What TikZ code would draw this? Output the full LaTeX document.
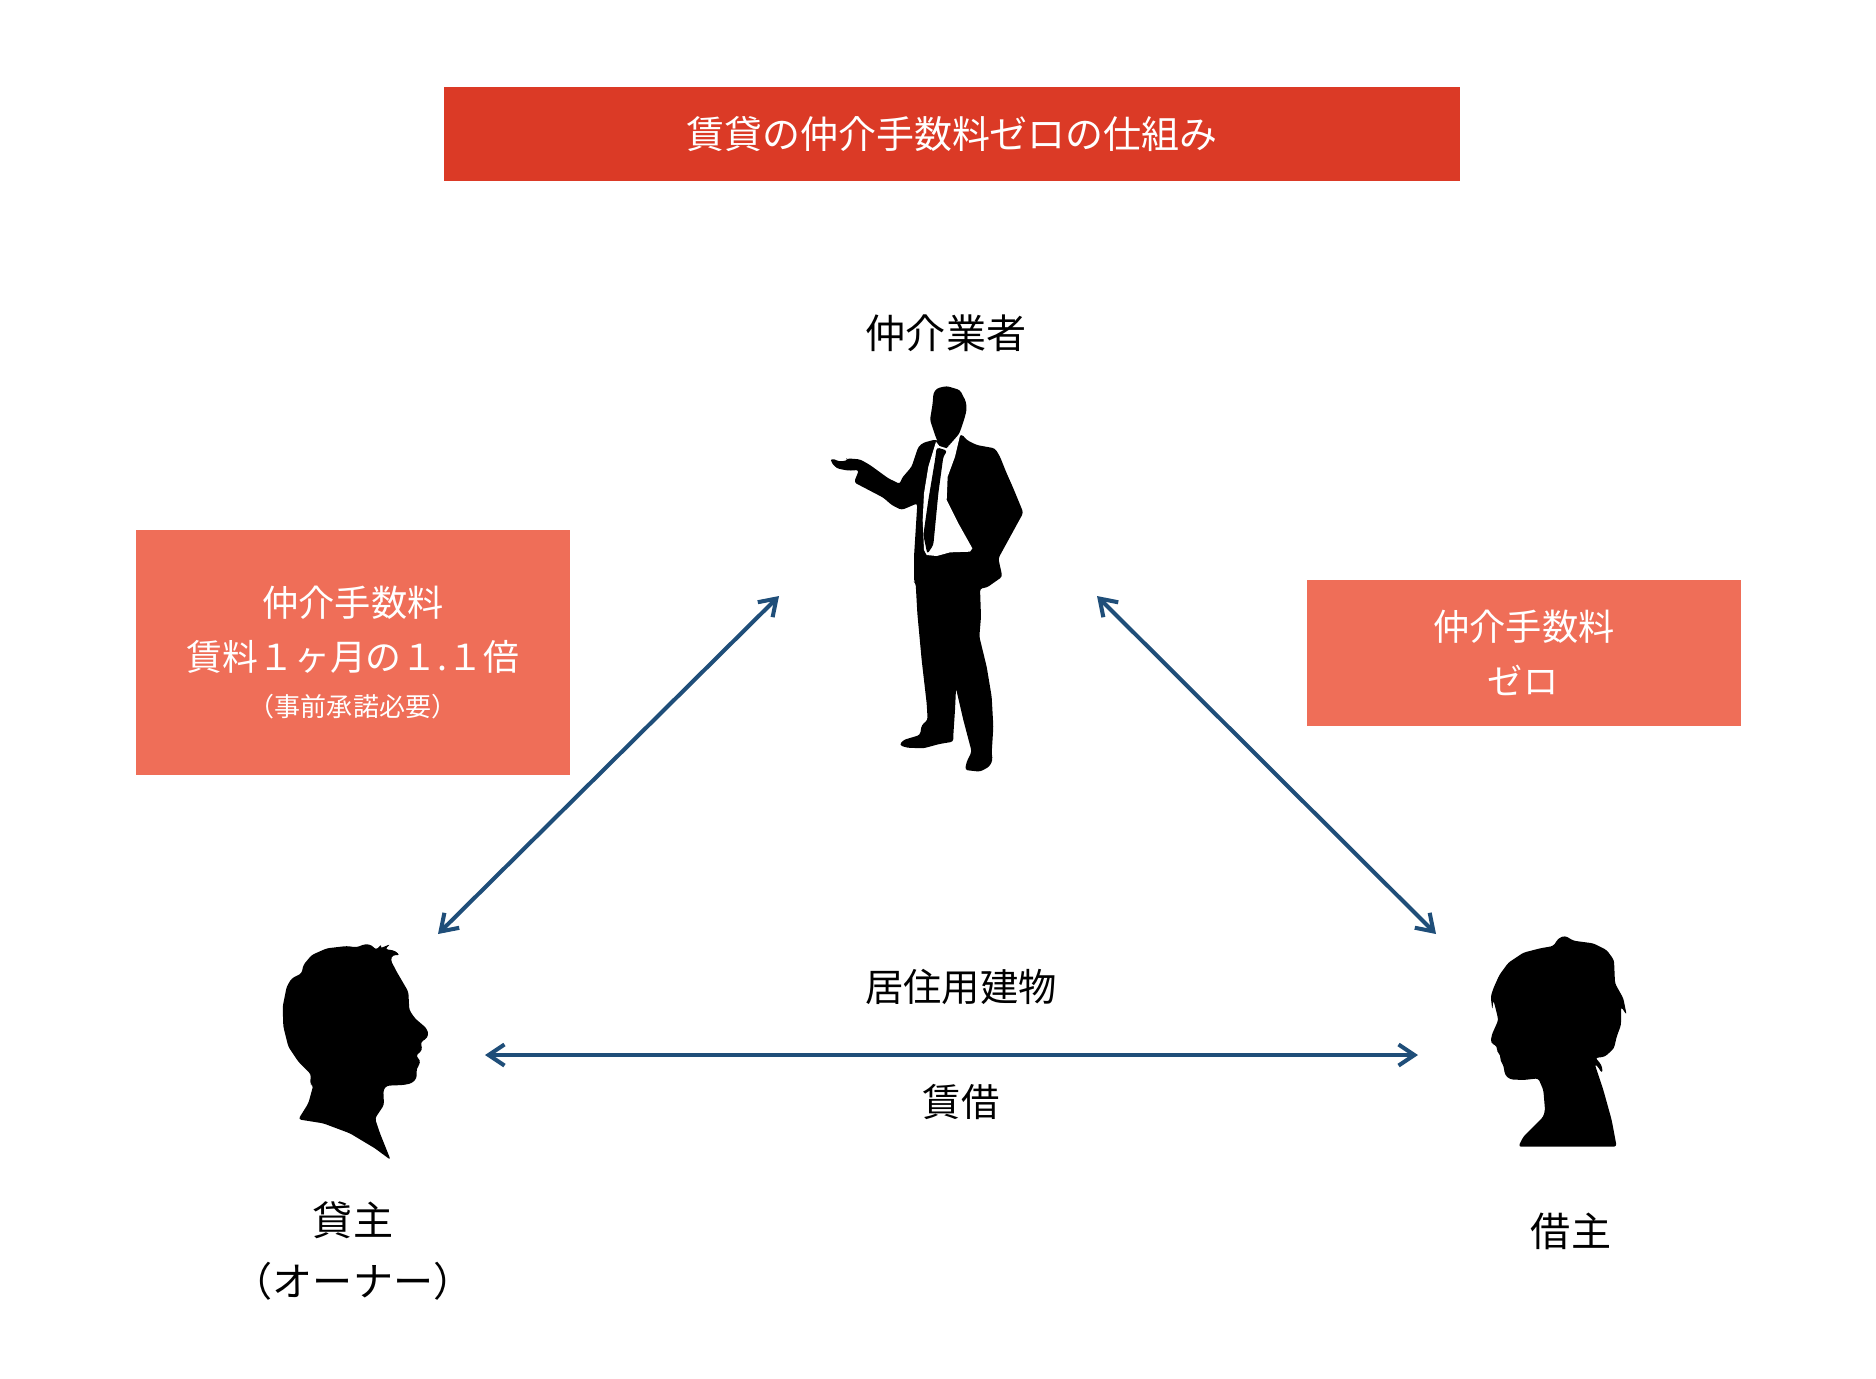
\documentclass[tikz,border=0pt]{standalone}
\usepackage{fontspec}
\setmainfont{Noto Sans CJK JP}
\usetikzlibrary{arrows.meta}
\definecolor{titlered}{HTML}{DB3A26}
\definecolor{feered}{HTML}{EF6E58}
\definecolor{linkblue}{HTML}{1F4E79}
\newcommand{\pxfont}[1]{\fontsize{#1}{#1}\selectfont}
\tikzset{
  banner/.style={fill=titlered,text=white,inner sep=0pt,minimum width=10.16cm,minimum height=0.94cm},
  feebox/.style={fill=feered,inner sep=0pt},
  party/.style={text=black,inner sep=0pt,align=center},
  feetext/.style={text=white,inner sep=0pt,align=center},
  link/.style={{Straight Barb[length=4.5pt,width=6pt]}-{Straight Barb[length=4.5pt,width=6pt]},linkblue,line width=1.15pt},
  silhouette/.style={fill=black,rounded corners=0.8pt}
}
\begin{document}
\begin{tikzpicture}[x=0.01cm,y=-0.01cm]
  \useasboundingbox (0,0) rectangle (1876,1378);

  \node[banner,font=\pxfont{10.8pt}] (title) at (952,134) {賃貸の仲介手数料ゼロの仕組み};

  \node[feebox,minimum width=4.34cm,minimum height=2.44cm] (ownerfee) at (353,652.5) {};
  \node[feetext,font=\pxfont{10.3pt}] (ownerfeeA) at (353,603) {仲介手数料};
  \node[feetext,font=\pxfont{10.2pt}] (ownerfeeB) at (353,657) {賃料１ヶ月の１.１倍};
  \node[feetext,font=\pxfont{7.4pt}] (ownerfeeC) at (353,707) {（事前承諾必要）};

  \node[feebox,minimum width=4.34cm,minimum height=1.45cm] (tenantfee) at (1524,653) {};
  \node[feetext,font=\pxfont{10.3pt}] (tenantfeeA) at (1524,627) {仲介手数料};
  \node[feetext,font=\pxfont{10pt}] (tenantfeeB) at (1523,680) {ゼロ};

  \node[party,font=\pxfont{11.4pt}] (agent) at (946,333) {仲介業者};
  \node[party,font=\pxfont{11.4pt}] (owner) at (353,1220) {貸主};
  \node[party,font=\pxfont{11.4pt}] (ownerb) at (353,1281) {（オーナー）};
  \node[party,font=\pxfont{11.4pt}] (tenant) at (1571,1231) {借主};
  \node[party,font=\pxfont{10.9pt}] (building) at (961,987) {居住用建物};
  \node[party,font=\pxfont{10.9pt}] (lease) at (961,1102) {賃借};

  % arrow ends
  \coordinate (agentL) at (779,596);
  \coordinate (agentR) at (1097,596);
  \coordinate (ownerT) at (438,934);
  \coordinate (ownerR) at (485,1055);
  \coordinate (tenantT) at (1436,934);
  \coordinate (tenantL) at (1418,1055);
  \draw[link] (ownerT)--(agentL);
  \draw[link] (agentR)--(tenantT);
  \draw[link] (ownerR)--(tenantL);

  % man
  \begin{scope}[shift={(780,360)},x=0.01cm/3,y=-0.01cm/3]
    \fill[silhouette] (470,85)--(500,78)--(540,90)--(558,125)--(560,150)--(552,180)--(540,215)--(530,235)--(500,262)--(478,258)--(465,225)--(450,180)--(458,130)--(460,100)--cycle;
    \fill[silhouette] (545,222)--(560,240)--(590,255)--(645,265)--(660,290)--(680,340)--(700,385)--(730,458)--(655,595)--(667,650)--(620,683)--(600,685)--(603,770)--(598,830)--(620,920)--(635,1010)--(640,1100)--(635,1180)--(638,1200)--(628,1220)--(600,1235)--(555,1230)--(560,1205)--(575,1175)--(550,1080)--(528,985)--(525,1050)--(520,1125)--(520,1145)--(478,1152)--(430,1165)--(380,1163)--(358,1155)--(370,1140)--(420,1125)--(425,1095)--(443,1080)--(440,1030)--(425,900)--(412,760)--(407,670)--(402,665)--(402,590)--(412,430)--(365,450)--(335,435)--(310,413)--(222,367)--(237,330)--(205,332)--(170,325)--(152,305)--(155,295)--(180,305)--(205,300)--(200,295)--(240,298)--(270,315)--(325,355)--(360,372)--(365,355)--(395,320)--(415,260)--(430,248)--(468,238)--(500,262)--cycle;
    \fill[white] (468,245)--(478,258)--(500,265)--(535,225)--(542,218)--(525,290)--(503,350)--(500,420)--(535,490)--(577,565)--(570,575)--(510,577)--(470,588)--(440,585)--(432,570)--(428,480)--(432,400)--(445,320)--cycle;
    \fill[silhouette] (470,262)--(502,272)--(490,290)--(475,400)--(460,555)--(442,582)--(430,525)--(445,420)--(465,300)--cycle;
  \end{scope}

  % owner head
  \begin{scope}[shift={(240,920)},x=0.01cm/3,y=-0.01cm/3]
    \fill[silhouette] (190,135)--(215,105)--(260,85)--(320,78)--(350,82)--(375,72)--(395,75)--(408,90)--(425,72)--(420,85)--(452,72)--(435,87)--(465,92)--(480,106)--(458,105)--(452,120)--(470,155)--(505,215)--(508,270)--(525,295)--(560,325)--(566,345)--(555,360)--(542,365)--(547,390)--(527,408)--(541,420)--(538,435)--(530,445)--(530,475)--(515,490)--(490,495)--(440,497)--(430,510)--(432,555)--(405,595)--(420,640)--(452,720)--(405,685)--(330,640)--(250,610)--(175,598)--(205,550)--(220,495)--(210,493)--(213,463)--(175,425)--(145,380)--(130,320)--(128,260)--(140,200)--(155,175)--(185,160)--cycle;
  \end{scope}

  % tenant head
  \begin{scope}[shift={(1460,920)},x=0.01cm/3,y=-0.01cm/3]
    \fill[silhouette] (175,680)--(190,650)--(250,590)--(255,570)--(250,510)--(235,475)--(190,480)--(150,478)--(135,465)--(130,435)--(120,420)--(122,405)--(110,395)--(112,380)--(92,368)--(95,345)--(115,300)--(108,270)--(100,240)--(97,270)--(92,230)--(100,205)--(118,165)--(145,128)--(190,98)--(240,85)--(280,78)--(295,55)--(315,47)--(340,62)--(400,70)--(440,90)--(462,120)--(465,190)--(490,235)--(500,285)--(483,260)--(483,315)--(470,350)--(462,385)--(435,410)--(405,414)--(418,425)--(428,445)--(426,460)--(412,438)--(404,432)--(430,510)--(455,600)--(470,680)--cycle;
  \end{scope}
\end{tikzpicture}
\end{document}
